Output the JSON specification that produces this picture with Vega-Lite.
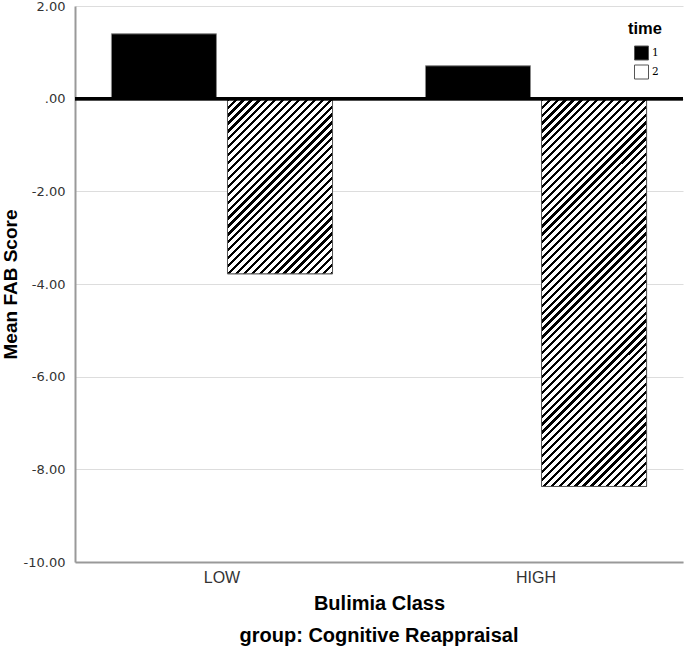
{
"$schema": "https://vega.github.io/schema/vega-lite/v6.json",
"width": 608, "height": 556,
"autosize": {"type": "none"},
"padding": {"left": 75, "top": 6, "right": 2, "bottom": 90},
"background": "white",
"config": {"view": {"stroke": null}},
"title": {"text": "group: Cognitive Reappraisal", "orient": "bottom", "anchor": "middle", "font": "Liberation Sans", "fontSize": 20, "fontWeight": "bold", "color": "#000", "offset": 13},
"data": {"values": [
 {"cls": "LOW", "time": "1", "score": 1.40},
 {"cls": "LOW", "time": "2", "score": -3.78},
 {"cls": "HIGH", "time": "1", "score": 0.71},
 {"cls": "HIGH", "time": "2", "score": -8.37}
]},
"layer": [
 {
  "mark": {"type": "bar", "stroke": "#888", "strokeWidth": 1},
  "encoding": {
   "x": {"field": "cls", "type": "nominal", "sort": ["LOW", "HIGH"], "title": "Bulimia Class",
     "scale": {"paddingInner": 0.296, "paddingOuter": 0.116},
     "axis": {"labelFont": "Liberation Sans", "labelFontSize": 16, "labelColor": "#333", "labelAngle": 0, "labelPadding": 7, "ticks": false, "tickSize": 0, "domainColor": "#999", "domainWidth": 2, "grid": false, "titleFont": "Liberation Sans", "titleFontSize": 20, "titleFontWeight": "bold", "titleColor": "#000", "titlePadding": 8}},
   "xOffset": {"field": "time", "type": "nominal", "sort": ["1", "2"], "scale": {"paddingInner": 0.095, "paddingOuter": 0}},
   "y": {"field": "score", "type": "quantitative", "title": "Mean FAB Score",
     "scale": {"domain": [-10, 2], "nice": false, "zero": false},
     "axis": {"values": [-10, -8, -6, -4, -2, 0, 2], "labelExpr": "datum.value == 0 ? '.00' : replace(format(datum.value, '.2f'), '\u2212', '-')", "labelFont": "DejaVu Sans", "labelFontSize": 13, "labelColor": "#333", "labelPadding": 10, "ticks": false, "tickSize": 0, "domainColor": "#999", "domainWidth": 2, "grid": true, "gridColor": "#ddd", "gridWidth": 1, "titleFont": "Liberation Sans", "titleFontSize": 19, "titleFontWeight": "bold", "titleColor": "#000", "titlePadding": 3}},
   "fill": {"field": "time", "type": "nominal", "scale": {"domain": ["1", "2"], "range": ["#000", "#fff"]},
     "legend": {"orient": "none", "legendX": 553, "legendY": 15, "padding": 0, "title": "time", "titleFont": "Liberation Sans", "titleFontSize": 16.5, "titleFontWeight": "bold", "titleColor": "#000", "titlePadding": 8,
       "symbolType": "square", "symbolSize": 196, "symbolStrokeColor": "#555", "symbolStrokeWidth": 1, "symbolOffset": 6,
       "labelFont": "DejaVu Serif", "labelFontSize": 10.5, "labelColor": "#000", "labelOffset": 3, "rowPadding": 0}}
  }
 },
 {
  "transform": [{"filter": "datum.time == '2' && datum.cls == 'LOW'"}],
  "mark": {"type": "bar", "stroke": "#555", "strokeWidth": 1, "fill": {"gradient": "linear", "x1": 0, "y1": 0, "x2": 1.2467, "y2": 2.079, "stops": [
{"offset":0,"color":"#000"},{"offset":0.0065,"color":"#000"},{"offset":0.0065,"color":"#fff"},{"offset":0.016,"color":"#fff"},
{"offset":0.016,"color":"#000"},{"offset":0.0225,"color":"#000"},{"offset":0.0225,"color":"#fff"},{"offset":0.032,"color":"#fff"},
{"offset":0.032,"color":"#000"},{"offset":0.0385,"color":"#000"},{"offset":0.0385,"color":"#fff"},{"offset":0.048,"color":"#fff"},
{"offset":0.048,"color":"#000"},{"offset":0.0545,"color":"#000"},{"offset":0.0545,"color":"#fff"},{"offset":0.064,"color":"#fff"},
{"offset":0.064,"color":"#000"},{"offset":0.0705,"color":"#000"},{"offset":0.0705,"color":"#fff"},{"offset":0.08,"color":"#fff"},
{"offset":0.08,"color":"#000"},{"offset":0.0865,"color":"#000"},{"offset":0.0865,"color":"#fff"},{"offset":0.096,"color":"#fff"},
{"offset":0.096,"color":"#000"},{"offset":0.1025,"color":"#000"},{"offset":0.1025,"color":"#fff"},{"offset":0.112,"color":"#fff"},
{"offset":0.112,"color":"#000"},{"offset":0.1185,"color":"#000"},{"offset":0.1185,"color":"#fff"},{"offset":0.128,"color":"#fff"},
{"offset":0.128,"color":"#000"},{"offset":0.1345,"color":"#000"},{"offset":0.1345,"color":"#fff"},{"offset":0.144,"color":"#fff"},
{"offset":0.144,"color":"#000"},{"offset":0.1505,"color":"#000"},{"offset":0.1505,"color":"#fff"},{"offset":0.16,"color":"#fff"},
{"offset":0.16,"color":"#000"},{"offset":0.1665,"color":"#000"},{"offset":0.1665,"color":"#fff"},{"offset":0.176,"color":"#fff"},
{"offset":0.176,"color":"#000"},{"offset":0.1825,"color":"#000"},{"offset":0.1825,"color":"#fff"},{"offset":0.192,"color":"#fff"},
{"offset":0.192,"color":"#000"},{"offset":0.1985,"color":"#000"},{"offset":0.1985,"color":"#fff"},{"offset":0.208,"color":"#fff"},
{"offset":0.208,"color":"#000"},{"offset":0.2145,"color":"#000"},{"offset":0.2145,"color":"#fff"},{"offset":0.224,"color":"#fff"},
{"offset":0.224,"color":"#000"},{"offset":0.2305,"color":"#000"},{"offset":0.2305,"color":"#fff"},{"offset":0.24,"color":"#fff"},
{"offset":0.24,"color":"#000"},{"offset":0.2465,"color":"#000"},{"offset":0.2465,"color":"#fff"},{"offset":0.256,"color":"#fff"},
{"offset":0.256,"color":"#000"},{"offset":0.2625,"color":"#000"},{"offset":0.2625,"color":"#fff"},{"offset":0.272,"color":"#fff"},
{"offset":0.272,"color":"#000"},{"offset":0.2785,"color":"#000"},{"offset":0.2785,"color":"#fff"},{"offset":0.288,"color":"#fff"},
{"offset":0.288,"color":"#000"},{"offset":0.2945,"color":"#000"},{"offset":0.2945,"color":"#fff"},{"offset":0.304,"color":"#fff"},
{"offset":0.304,"color":"#000"},{"offset":0.3105,"color":"#000"},{"offset":0.3105,"color":"#fff"},{"offset":0.32,"color":"#fff"},
{"offset":0.32,"color":"#000"},{"offset":0.3265,"color":"#000"},{"offset":0.3265,"color":"#fff"},{"offset":0.336,"color":"#fff"},
{"offset":0.336,"color":"#000"},{"offset":0.3425,"color":"#000"},{"offset":0.3425,"color":"#fff"},{"offset":0.352,"color":"#fff"},
{"offset":0.352,"color":"#000"},{"offset":0.3585,"color":"#000"},{"offset":0.3585,"color":"#fff"},{"offset":0.368,"color":"#fff"},
{"offset":0.368,"color":"#000"},{"offset":0.3745,"color":"#000"},{"offset":0.3745,"color":"#fff"},{"offset":0.384,"color":"#fff"},
{"offset":0.384,"color":"#000"},{"offset":0.3905,"color":"#000"},{"offset":0.3905,"color":"#fff"},{"offset":0.4,"color":"#fff"},
{"offset":0.4,"color":"#000"},{"offset":0.4065,"color":"#000"},{"offset":0.4065,"color":"#fff"},{"offset":0.416,"color":"#fff"},
{"offset":0.416,"color":"#000"},{"offset":0.4225,"color":"#000"},{"offset":0.4225,"color":"#fff"},{"offset":0.432,"color":"#fff"},
{"offset":0.432,"color":"#000"},{"offset":0.4385,"color":"#000"},{"offset":0.4385,"color":"#fff"},{"offset":0.448,"color":"#fff"},
{"offset":0.448,"color":"#000"},{"offset":0.4545,"color":"#000"},{"offset":0.4545,"color":"#fff"},{"offset":0.464,"color":"#fff"},
{"offset":0.464,"color":"#000"},{"offset":0.4705,"color":"#000"},{"offset":0.4705,"color":"#fff"},{"offset":0.48,"color":"#fff"},
{"offset":0.48,"color":"#000"},{"offset":0.4865,"color":"#000"},{"offset":0.4865,"color":"#fff"},{"offset":0.496,"color":"#fff"},
{"offset":0.496,"color":"#000"},{"offset":0.5025,"color":"#000"},{"offset":0.5025,"color":"#fff"},{"offset":0.512,"color":"#fff"},
{"offset":0.512,"color":"#000"},{"offset":0.5185,"color":"#000"},{"offset":0.5185,"color":"#fff"},{"offset":0.528,"color":"#fff"},
{"offset":0.528,"color":"#000"},{"offset":0.5345,"color":"#000"},{"offset":0.5345,"color":"#fff"},{"offset":0.544,"color":"#fff"},
{"offset":0.544,"color":"#000"},{"offset":0.5505,"color":"#000"},{"offset":0.5505,"color":"#fff"},{"offset":0.56,"color":"#fff"},
{"offset":0.56,"color":"#000"},{"offset":0.5665,"color":"#000"},{"offset":0.5665,"color":"#fff"},{"offset":0.576,"color":"#fff"},
{"offset":0.576,"color":"#000"},{"offset":0.5825,"color":"#000"},{"offset":0.5825,"color":"#fff"},{"offset":0.592,"color":"#fff"}
  ]}},
  "encoding": {
   "x": {"field": "cls", "type": "nominal", "sort": ["LOW", "HIGH"]},
   "xOffset": {"field": "time", "type": "nominal", "sort": ["1", "2"]},
   "y": {"field": "score", "type": "quantitative"}
  }
 },
 {
  "transform": [{"filter": "datum.time == '2' && datum.cls == 'HIGH'"}],
  "mark": {"type": "bar", "stroke": "#555", "strokeWidth": 1, "fill": {"gradient": "linear", "x1": 0, "y1": 0, "x2": 0.322, "y2": 1.1892, "stops": [
{"offset":0,"color":"#000"},{"offset":0.0065,"color":"#000"},{"offset":0.0065,"color":"#fff"},{"offset":0.016,"color":"#fff"},
{"offset":0.016,"color":"#000"},{"offset":0.0225,"color":"#000"},{"offset":0.0225,"color":"#fff"},{"offset":0.032,"color":"#fff"},
{"offset":0.032,"color":"#000"},{"offset":0.0385,"color":"#000"},{"offset":0.0385,"color":"#fff"},{"offset":0.048,"color":"#fff"},
{"offset":0.048,"color":"#000"},{"offset":0.0545,"color":"#000"},{"offset":0.0545,"color":"#fff"},{"offset":0.064,"color":"#fff"},
{"offset":0.064,"color":"#000"},{"offset":0.0705,"color":"#000"},{"offset":0.0705,"color":"#fff"},{"offset":0.08,"color":"#fff"},
{"offset":0.08,"color":"#000"},{"offset":0.0865,"color":"#000"},{"offset":0.0865,"color":"#fff"},{"offset":0.096,"color":"#fff"},
{"offset":0.096,"color":"#000"},{"offset":0.1025,"color":"#000"},{"offset":0.1025,"color":"#fff"},{"offset":0.112,"color":"#fff"},
{"offset":0.112,"color":"#000"},{"offset":0.1185,"color":"#000"},{"offset":0.1185,"color":"#fff"},{"offset":0.128,"color":"#fff"},
{"offset":0.128,"color":"#000"},{"offset":0.1345,"color":"#000"},{"offset":0.1345,"color":"#fff"},{"offset":0.144,"color":"#fff"},
{"offset":0.144,"color":"#000"},{"offset":0.1505,"color":"#000"},{"offset":0.1505,"color":"#fff"},{"offset":0.16,"color":"#fff"},
{"offset":0.16,"color":"#000"},{"offset":0.1665,"color":"#000"},{"offset":0.1665,"color":"#fff"},{"offset":0.176,"color":"#fff"},
{"offset":0.176,"color":"#000"},{"offset":0.1825,"color":"#000"},{"offset":0.1825,"color":"#fff"},{"offset":0.192,"color":"#fff"},
{"offset":0.192,"color":"#000"},{"offset":0.1985,"color":"#000"},{"offset":0.1985,"color":"#fff"},{"offset":0.208,"color":"#fff"},
{"offset":0.208,"color":"#000"},{"offset":0.2145,"color":"#000"},{"offset":0.2145,"color":"#fff"},{"offset":0.224,"color":"#fff"},
{"offset":0.224,"color":"#000"},{"offset":0.2305,"color":"#000"},{"offset":0.2305,"color":"#fff"},{"offset":0.24,"color":"#fff"},
{"offset":0.24,"color":"#000"},{"offset":0.2465,"color":"#000"},{"offset":0.2465,"color":"#fff"},{"offset":0.256,"color":"#fff"},
{"offset":0.256,"color":"#000"},{"offset":0.2625,"color":"#000"},{"offset":0.2625,"color":"#fff"},{"offset":0.272,"color":"#fff"},
{"offset":0.272,"color":"#000"},{"offset":0.2785,"color":"#000"},{"offset":0.2785,"color":"#fff"},{"offset":0.288,"color":"#fff"},
{"offset":0.288,"color":"#000"},{"offset":0.2945,"color":"#000"},{"offset":0.2945,"color":"#fff"},{"offset":0.304,"color":"#fff"},
{"offset":0.304,"color":"#000"},{"offset":0.3105,"color":"#000"},{"offset":0.3105,"color":"#fff"},{"offset":0.32,"color":"#fff"},
{"offset":0.32,"color":"#000"},{"offset":0.3265,"color":"#000"},{"offset":0.3265,"color":"#fff"},{"offset":0.336,"color":"#fff"},
{"offset":0.336,"color":"#000"},{"offset":0.3425,"color":"#000"},{"offset":0.3425,"color":"#fff"},{"offset":0.352,"color":"#fff"},
{"offset":0.352,"color":"#000"},{"offset":0.3585,"color":"#000"},{"offset":0.3585,"color":"#fff"},{"offset":0.368,"color":"#fff"},
{"offset":0.368,"color":"#000"},{"offset":0.3745,"color":"#000"},{"offset":0.3745,"color":"#fff"},{"offset":0.384,"color":"#fff"},
{"offset":0.384,"color":"#000"},{"offset":0.3905,"color":"#000"},{"offset":0.3905,"color":"#fff"},{"offset":0.4,"color":"#fff"},
{"offset":0.4,"color":"#000"},{"offset":0.4065,"color":"#000"},{"offset":0.4065,"color":"#fff"},{"offset":0.416,"color":"#fff"},
{"offset":0.416,"color":"#000"},{"offset":0.4225,"color":"#000"},{"offset":0.4225,"color":"#fff"},{"offset":0.432,"color":"#fff"},
{"offset":0.432,"color":"#000"},{"offset":0.4385,"color":"#000"},{"offset":0.4385,"color":"#fff"},{"offset":0.448,"color":"#fff"},
{"offset":0.448,"color":"#000"},{"offset":0.4545,"color":"#000"},{"offset":0.4545,"color":"#fff"},{"offset":0.464,"color":"#fff"},
{"offset":0.464,"color":"#000"},{"offset":0.4705,"color":"#000"},{"offset":0.4705,"color":"#fff"},{"offset":0.48,"color":"#fff"},
{"offset":0.48,"color":"#000"},{"offset":0.4865,"color":"#000"},{"offset":0.4865,"color":"#fff"},{"offset":0.496,"color":"#fff"},
{"offset":0.496,"color":"#000"},{"offset":0.5025,"color":"#000"},{"offset":0.5025,"color":"#fff"},{"offset":0.512,"color":"#fff"},
{"offset":0.512,"color":"#000"},{"offset":0.5185,"color":"#000"},{"offset":0.5185,"color":"#fff"},{"offset":0.528,"color":"#fff"},
{"offset":0.528,"color":"#000"},{"offset":0.5345,"color":"#000"},{"offset":0.5345,"color":"#fff"},{"offset":0.544,"color":"#fff"},
{"offset":0.544,"color":"#000"},{"offset":0.5505,"color":"#000"},{"offset":0.5505,"color":"#fff"},{"offset":0.56,"color":"#fff"},
{"offset":0.56,"color":"#000"},{"offset":0.5665,"color":"#000"},{"offset":0.5665,"color":"#fff"},{"offset":0.576,"color":"#fff"},
{"offset":0.576,"color":"#000"},{"offset":0.5825,"color":"#000"},{"offset":0.5825,"color":"#fff"},{"offset":0.592,"color":"#fff"},
{"offset":0.592,"color":"#000"},{"offset":0.5985,"color":"#000"},{"offset":0.5985,"color":"#fff"},{"offset":0.608,"color":"#fff"},
{"offset":0.608,"color":"#000"},{"offset":0.6145,"color":"#000"},{"offset":0.6145,"color":"#fff"},{"offset":0.624,"color":"#fff"},
{"offset":0.624,"color":"#000"},{"offset":0.6305,"color":"#000"},{"offset":0.6305,"color":"#fff"},{"offset":0.64,"color":"#fff"},
{"offset":0.64,"color":"#000"},{"offset":0.6465,"color":"#000"},{"offset":0.6465,"color":"#fff"},{"offset":0.656,"color":"#fff"},
{"offset":0.656,"color":"#000"},{"offset":0.6625,"color":"#000"},{"offset":0.6625,"color":"#fff"},{"offset":0.672,"color":"#fff"},
{"offset":0.672,"color":"#000"},{"offset":0.6785,"color":"#000"},{"offset":0.6785,"color":"#fff"},{"offset":0.688,"color":"#fff"},
{"offset":0.688,"color":"#000"},{"offset":0.6945,"color":"#000"},{"offset":0.6945,"color":"#fff"},{"offset":0.704,"color":"#fff"},
{"offset":0.704,"color":"#000"},{"offset":0.7105,"color":"#000"},{"offset":0.7105,"color":"#fff"},{"offset":0.72,"color":"#fff"},
{"offset":0.72,"color":"#000"},{"offset":0.7265,"color":"#000"},{"offset":0.7265,"color":"#fff"},{"offset":0.736,"color":"#fff"},
{"offset":0.736,"color":"#000"},{"offset":0.7425,"color":"#000"},{"offset":0.7425,"color":"#fff"},{"offset":0.752,"color":"#fff"},
{"offset":0.752,"color":"#000"},{"offset":0.7585,"color":"#000"},{"offset":0.7585,"color":"#fff"},{"offset":0.768,"color":"#fff"},
{"offset":0.768,"color":"#000"},{"offset":0.7745,"color":"#000"},{"offset":0.7745,"color":"#fff"},{"offset":0.784,"color":"#fff"},
{"offset":0.784,"color":"#000"},{"offset":0.7905,"color":"#000"},{"offset":0.7905,"color":"#fff"},{"offset":0.8,"color":"#fff"},
{"offset":0.8,"color":"#000"},{"offset":0.8065,"color":"#000"},{"offset":0.8065,"color":"#fff"},{"offset":0.816,"color":"#fff"},
{"offset":0.816,"color":"#000"},{"offset":0.8225,"color":"#000"},{"offset":0.8225,"color":"#fff"},{"offset":0.832,"color":"#fff"},
{"offset":0.832,"color":"#000"},{"offset":0.8385,"color":"#000"},{"offset":0.8385,"color":"#fff"},{"offset":0.848,"color":"#fff"},
{"offset":0.848,"color":"#000"},{"offset":0.8545,"color":"#000"},{"offset":0.8545,"color":"#fff"},{"offset":0.864,"color":"#fff"},
{"offset":0.864,"color":"#000"},{"offset":0.8705,"color":"#000"},{"offset":0.8705,"color":"#fff"},{"offset":0.88,"color":"#fff"},
{"offset":0.88,"color":"#000"},{"offset":0.8865,"color":"#000"},{"offset":0.8865,"color":"#fff"},{"offset":0.896,"color":"#fff"},
{"offset":0.896,"color":"#000"},{"offset":0.9025,"color":"#000"},{"offset":0.9025,"color":"#fff"},{"offset":0.912,"color":"#fff"},
{"offset":0.912,"color":"#000"},{"offset":0.9185,"color":"#000"},{"offset":0.9185,"color":"#fff"},{"offset":0.928,"color":"#fff"},
{"offset":0.928,"color":"#000"},{"offset":0.9345,"color":"#000"},{"offset":0.9345,"color":"#fff"},{"offset":0.944,"color":"#fff"},
{"offset":0.944,"color":"#000"},{"offset":0.9505,"color":"#000"},{"offset":0.9505,"color":"#fff"},{"offset":0.96,"color":"#fff"},
{"offset":0.96,"color":"#000"},{"offset":0.9665,"color":"#000"},{"offset":0.9665,"color":"#fff"},{"offset":0.976,"color":"#fff"},
{"offset":0.976,"color":"#000"},{"offset":0.9825,"color":"#000"},{"offset":0.9825,"color":"#fff"},{"offset":0.992,"color":"#fff"},
{"offset":0.992,"color":"#000"},{"offset":0.9985,"color":"#000"},{"offset":0.9985,"color":"#fff"},{"offset":1,"color":"#fff"}
  ]}},
  "encoding": {
   "x": {"field": "cls", "type": "nominal", "sort": ["LOW", "HIGH"]},
   "xOffset": {"field": "time", "type": "nominal", "sort": ["1", "2"]},
   "y": {"field": "score", "type": "quantitative"}
  }
 },
 {
  "mark": {"type": "rule", "color": "#000", "strokeWidth": 3},
  "encoding": {"y": {"datum": 0, "type": "quantitative"}}
 }
]
}
